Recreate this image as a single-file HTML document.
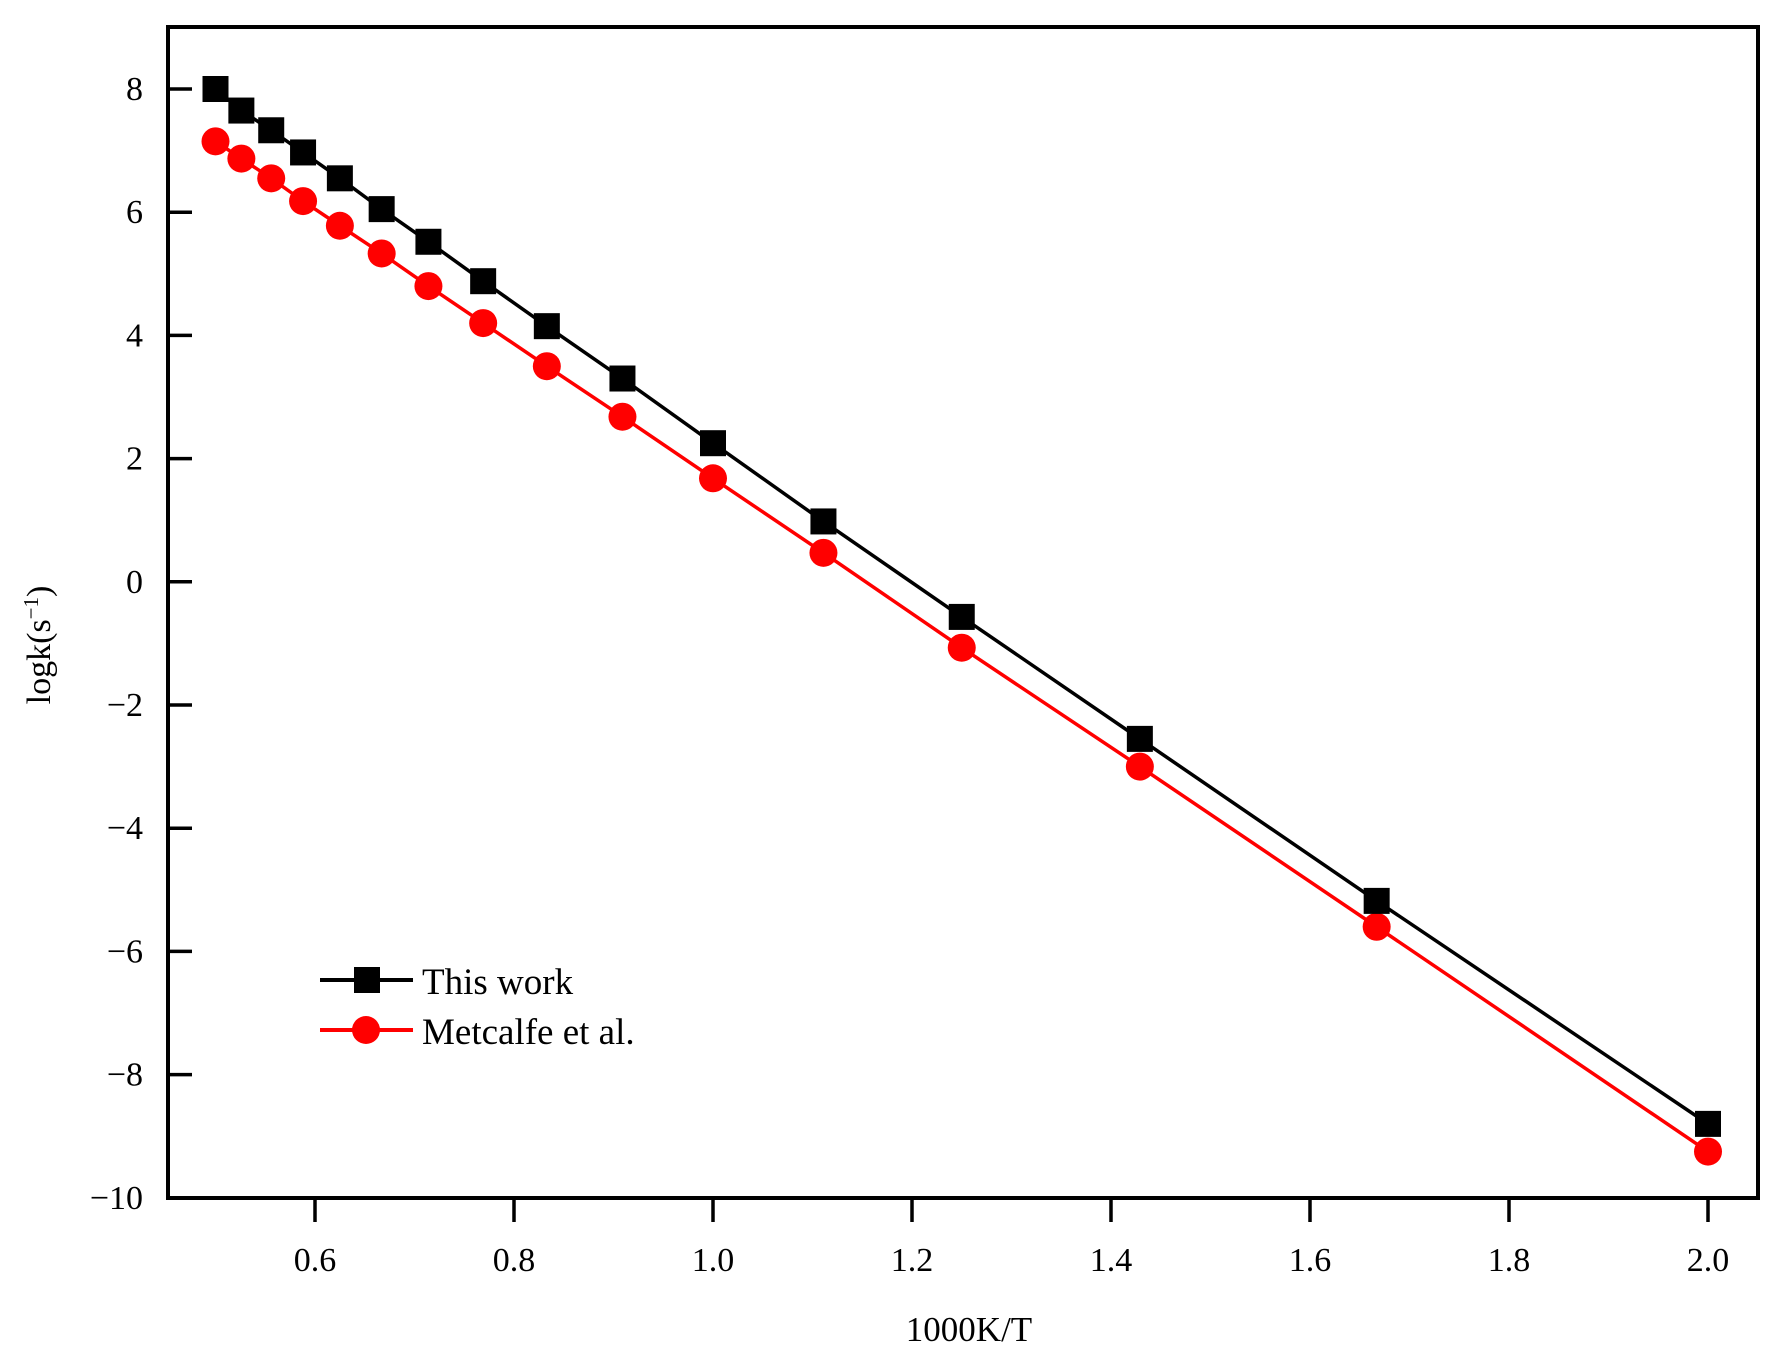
<!DOCTYPE html>
<html><head><meta charset="utf-8"><style>
html,body{margin:0;padding:0;background:#fff;}
svg{display:block;font-family:"Liberation Serif",serif;}
</style></head><body>
<svg id="chart" width="1782" height="1358" viewBox="0 0 1782 1358">
<rect x="0" y="0" width="1782" height="1358" fill="#fff"/>
<g id="plot"></g>
<g id="axes"></g>
<g id="legend">
  <line x1="320" y1="980" x2="413" y2="980" stroke="#000" stroke-width="4"/>
  <rect x="354" y="967" width="26" height="26" fill="#000"/>
  <text x="422" y="994" font-size="37" fill="#000">This work</text>
  <line x1="320" y1="1030" x2="413" y2="1030" stroke="#f00" stroke-width="4"/>
  <circle cx="366" cy="1030" r="14" fill="#f00"/>
  <text x="422" y="1044" font-size="37" fill="#000">Metcalfe et al.</text>
</g>
<text x="969" y="1341" font-size="35" text-anchor="middle">1000K/T</text>
<text transform="translate(50,645) rotate(-90)" font-size="34" text-anchor="middle">logk(s<tspan baseline-shift="super" font-size="21">−1</tspan>)</text>
</svg>
<script>
const xValues = [0.5, 0.526, 0.556, 0.588, 0.625, 0.667, 0.714, 0.769, 0.833, 0.909, 1.0, 1.111, 1.25, 1.429, 1.667, 2.0];
const thisWork = [8.0, 7.65, 7.33, 6.97, 6.55, 6.05, 5.52, 4.88, 4.15, 3.3, 2.25, 0.98, -0.57, -2.55, -5.18, -8.8];
const metcalfe = [7.15, 6.87, 6.55, 6.18, 5.78, 5.33, 4.8, 4.2, 3.5, 2.68, 1.68, 0.47, -1.07, -3.0, -5.6, -9.25];
const xTicks = [0.6, 0.8, 1.0, 1.2, 1.4, 1.6, 1.8, 2.0];
const xTickLabels = ["0.6", "0.8", "1.0", "1.2", "1.4", "1.6", "1.8", "2.0"];
const yTicks = [8, 6, 4, 2, 0, -2, -4, -6, -8, -10];
const yTickLabels = ["8", "6", "4", "2", "0", "\u22122", "\u22124", "\u22126", "\u22128", "\u221210"];

const NS = "http://www.w3.org/2000/svg";
const L = 168, R = 1758, T = 27, B = 1198;
function sx(v){ return 1708 + (v - 2.0) * 995; }
function sy(v){ return 89 + (8 - v) * 61.6; }
function mk(tag, attrs, parent){
  const e = document.createElementNS(NS, tag);
  for (const k in attrs) e.setAttribute(k, attrs[k]);
  parent.appendChild(e);
  return e;
}
const plot = document.getElementById("plot");
const axes = document.getElementById("axes");

function series(vals, color, kind, name){
  const pts = xValues.map((x,i)=> sx(x)+","+sy(vals[i])).join(" ");
  const pl = mk("polyline", {points: pts, fill: "none", stroke: color, "stroke-width": 3.5}, plot);
  
  
  xValues.forEach((x,i)=>{
    let m;
    if (kind === "square") {
      m = mk("rect", {x: sx(x)-13, y: sy(vals[i])-13, width: 26, height: 26, fill: color}, plot);
    } else {
      m = mk("circle", {cx: sx(x), cy: sy(vals[i]), r: 14, fill: color}, plot);
    }
    
    
  });
}
series(metcalfe, "#f00", "circle", "metcalfe");
series(thisWork, "#000", "square", "this-work");

const frame = mk("rect", {x: L, y: T, width: R-L, height: B-T, fill: "none", stroke: "#000", "stroke-width": 4}, axes);



xTicks.forEach((v,i)=>{
  const t = mk("line", {x1: sx(v), y1: B, x2: sx(v), y2: B+24, stroke: "#000", "stroke-width": 3.5}, axes);
  
  
  const lb = mk("text", {x: sx(v), y: 1271, "font-size": 34, "text-anchor": "middle"}, axes);
  lb.textContent = xTickLabels[i];
  
  
});
yTicks.forEach((v,i)=>{
  const t = mk("line", {x1: L, y1: sy(v), x2: L+24, y2: sy(v), stroke: "#000", "stroke-width": 3.5}, axes);
  
  
  const lb = mk("text", {x: 143, y: sy(v)+11, "font-size": 34, "text-anchor": "end"}, axes);
  lb.textContent = yTickLabels[i];
  
  
});
</script>
</body></html>
